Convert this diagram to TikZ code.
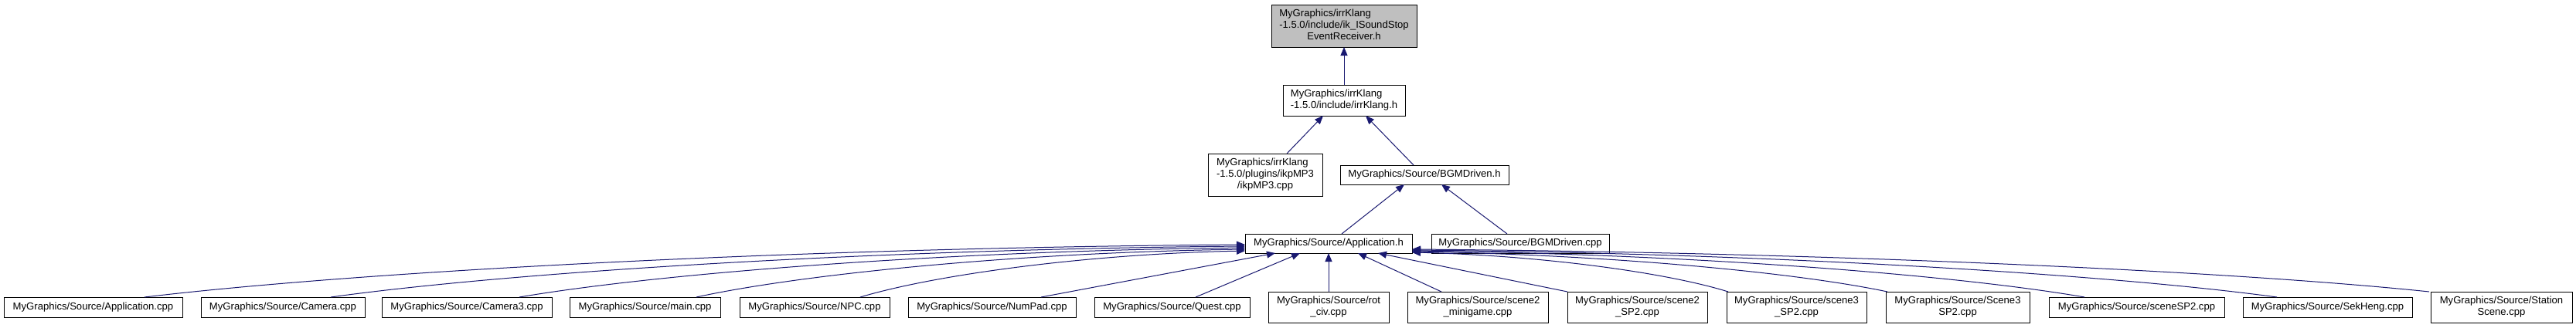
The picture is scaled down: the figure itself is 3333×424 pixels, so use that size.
\documentclass[tikz,border=0pt]{standalone}
\usepackage{fontspec}
\setmainfont{Liberation Sans}
\usetikzlibrary{arrows.meta,calc}
\definecolor{edgeblue}{HTML}{191970}
\definecolor{topgray}{HTML}{BFBFBF}
\newcommand\mylastc[1]{\multicolumn{1}{@{}c@{}}{#1}}
\newcommand\mylines[1]{\begin{tabular}{@{}l@{}}#1\end{tabular}}
\begin{document}
\begin{tikzpicture}[x=1pt,y=-1pt,
  box/.style={draw=black, line width=1pt, fill=white, inner sep=0pt, outer sep=0pt,
    font=\fontsize{13.1}{15}\selectfont, text=black},
  one/.style={box, minimum height=26pt},
  two/.style={box, minimum height=40pt},
  edge/.style={draw=edgeblue, line width=1pt, -{Triangle[length=11pt,width=9pt]}}]
\fill[white] (0,0) rectangle (3333,424);
\useasboundingbox (0,0) rectangle (3333,424);

% top rows
\node[box, fill=topgray, minimum width=188pt, minimum height=55pt] (ik) at (1739,33.5)
  {\mylines{MyGraphics/irrKlang\\-1.5.0/include/ik\_ISoundStop\\\mylastc{EventReceiver.h}}};
\node[box, minimum width=158pt, minimum height=40pt] (irr) at (1739,130)
  {\mylines{MyGraphics/irrKlang\\-1.5.0/include/irrKlang.h}};
\node[box, minimum width=148pt, minimum height=55pt] (mp3) at (1637,226.5)
  {\mylines{MyGraphics/irrKlang\\-1.5.0/plugins/ikpMP3\\\mylastc{/ikpMP3.cpp}}};
\node[box, minimum width=218pt, minimum height=25pt] (bgmh) at (1843,226.5)
  {MyGraphics/Source/BGMDriven.h};
\node[box, minimum width=216pt, minimum height=25pt] (apph) at (1719,315.5)
  {MyGraphics/Source/Application.h};
\node[box, minimum width=230pt, minimum height=25pt] (bgmcpp) at (1967,315.5)
  {MyGraphics/Source/BGMDriven.cpp};

% bottom row
\node[one, minimum width=231pt] (acpp) at (120.5,398) {MyGraphics/Source/Application.cpp};
\node[one, minimum width=212pt] (cam) at (366,398) {MyGraphics/Source/Camera.cpp};
\node[one, minimum width=220pt] (cam3) at (604,398) {MyGraphics/Source/Camera3.cpp};
\node[one, minimum width=195pt] (mainc) at (834.5,398) {MyGraphics/Source/main.cpp};
\node[one, minimum width=194pt] (npc) at (1054,398) {MyGraphics/Source/NPC.cpp};
\node[one, minimum width=217pt] (numpad) at (1283.5,398) {MyGraphics/Source/NumPad.cpp};
\node[one, minimum width=201pt] (quest) at (1516.5,398) {MyGraphics/Source/Quest.cpp};
\node[two, minimum width=156pt] (rot) at (1719,398)
  {\mylines{MyGraphics/Source/rot\\\mylastc{\_civ.cpp}}};
\node[two, minimum width=182pt] (mini) at (1912,398)
  {\mylines{MyGraphics/Source/scene2\\\mylastc{\_minigame.cpp}}};
\node[two, minimum width=181pt] (stwo) at (2118.5,398)
  {\mylines{MyGraphics/Source/scene2\\\mylastc{\_SP2.cpp}}};
\node[two, minimum width=181pt] (sthree) at (2324.5,398)
  {\mylines{MyGraphics/Source/scene3\\\mylastc{\_SP2.cpp}}};
\node[two, minimum width=186pt] (Sthree) at (2533,398)
  {\mylines{MyGraphics/Source/Scene3\\\mylastc{SP2.cpp}}};
\node[one, minimum width=227pt] (ssp) at (2764.5,398) {MyGraphics/Source/sceneSP2.cpp};
\node[one, minimum width=219pt] (sek) at (3011.5,398) {MyGraphics/Source/SekHeng.cpp};
\node[two, minimum width=183pt] (station) at (3236.5,398)
  {\mylines{MyGraphics/Source/Station\\\mylastc{Scene.cpp}}};

% upper edges
\draw[edge] (irr.north) -- (ik.south);
\draw[edge] ($(mp3.north)+(28,0)$) -- ($(irr.south)+(-27,0)$);
\draw[edge] ($(bgmh.north)+(-14,0)$) -- ($(irr.south)+(28,0)$);
\draw[edge] ($(apph.north)+(17,0)$) -- ($(bgmh.south)+(-26,0)$);
\draw[edge] ($(bgmcpp.north)+(-17,0)$) -- ($(bgmh.south)+(22,0)$);

% left curved edges
\draw[edge] ($(acpp.north)+(66.5,0)$) .. controls (472,351) and (1041,321) .. ($(apph.west)+(0,1.5)$);
\draw[edge] ($(cam.north)+(62,0)$) .. controls (665,352) and (1138,323) .. ($(apph.west)+(0,3.5)$);
\draw[edge] ($(cam3.north)+(68,0)$) .. controls (860,353) and (1235,325) .. ($(apph.west)+(0,5.5)$);
\draw[edge] ($(mainc.north)+(66.5,0)$) .. controls (1043,354) and (1327,327) .. ($(apph.west)+(0,7.5)$);
\draw[edge] ($(npc.north)+(59,0)$) .. controls (1213,355) and (1412,329) .. ($(apph.west)+(0,9.5)$);
\draw[edge] ($(numpad.north)+(63.5,0)$) -- ($(apph.south)+(-69,0)$);
\draw[edge] ($(quest.north)+(30.5,0)$) -- ($(apph.south)+(-37,0)$);

% middle edges
\draw[edge] (rot.north) -- (apph.south);
\draw[edge] ($(mini.north)+(-47,0)$) -- ($(apph.south)+(38,0)$);
\draw[edge] (stwo.north west) -- ($(apph.south)+(64,0)$);

% right curved edges
\draw[edge] ($(sthree.north west)+(2,0)$) .. controls (2154,352.5) and (1991,331) .. ($(apph.south east)+(0,-1)$);
\draw[edge] ($(Sthree.north west)+(2,0)$) .. controls (2319,352) and (2073,330) .. ($(apph.south east)+(0,-2)$);
\draw[edge] ($(ssp.north)+(-67.5,0)$) .. controls (2523,355) and (2175,329) .. ($(apph.south east)+(0,-3)$);
\draw[edge] ($(sek.north)+(-65.5,0)$) .. controls (2722,354.5) and (2275,328) .. ($(apph.south east)+(0,-4)$);
\draw[edge] ($(station.north west)+(-2,0)$) .. controls (2880,350.5) and (2353,327) .. ($(apph.south east)+(0,-5)$);
\end{tikzpicture}
\end{document}
